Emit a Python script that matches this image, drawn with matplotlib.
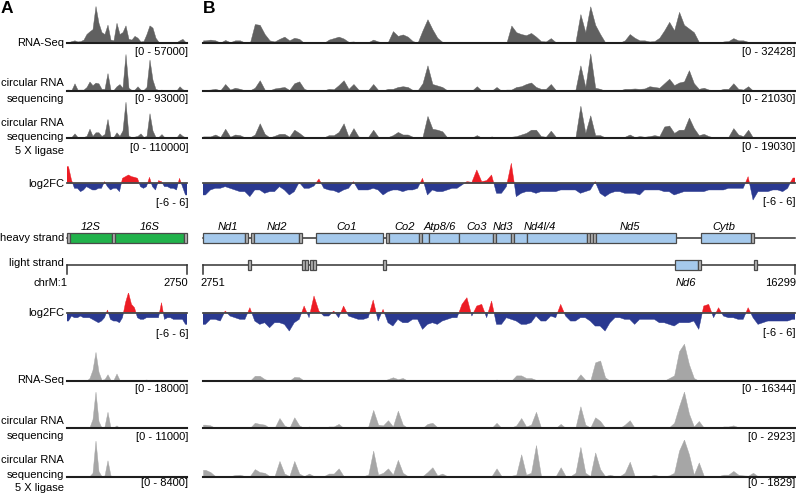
import numpy as np
import matplotlib
matplotlib.use('Agg')
import matplotlib.pyplot as plt
from matplotlib.patches import Rectangle

plt.rcParams['font.family'] = ['Liberation Sans', 'DejaVu Sans']

# ---------------- data (coverage in % of track scale, log2FC in log2 units) -------------
a_rna1 = [3, 6, 8, 5, 6, 10, 25, 32, 38, 100, 55, 30, 25, 50, 10, 8, 55, 25, 30, 48,
          12, 10, 20, 15, 5, 6, 25, 48, 42, 15, 4, 3, 3, 2, 3, 2, 3, 8, 12, 3]
a_circ1 = [3, 2, 20, 3, 3, 3, 10, 25, 15, 22, 20, 5, 5, 48, 3, 2, 12, 18, 8, 100,
           8, 2, 3, 12, 3, 2, 10, 85, 30, 5, 2, 3, 1, 1, 1, 1, 1, 12, 4, 1]
a_lig1 = [0, 2, 12, 2, 2, 2, 5, 25, 5, 15, 15, 5, 10, 52, 2, 2, 15, 5, 20, 100,
          5, 2, 3, 5, 12, 2, 5, 68, 20, 2, 2, 10, 1, 1, 1, 1, 1, 12, 5, 1]
a_fc1 = [5, 1, -1.5, -1.5, -2.5, -2, -1, -1.5, -2, -2, -1.5, -1.5, 0.5, -1, -2, -1.5, -1.5, -2.5, 1.5, 2,
         2.5, 2, 1.8, 1.5, -1, -1.5, -1, 1.8, -1, -2, 0.8, 0.5, -1, -1, -1.5, -1.5, -2, 1.5, -1, -3.5]
a_fc2 = [-2.5, -1, -1.5, -1.5, -1, -1.5, -1.5, -1.5, -2, -2.5, -3, -2.5, -1.5, 0.8, -2, -2.5, -2.5, -3, -1.5, 3,
         6, 2.5, 1.5, -1.5, -2, -2, -1.5, -1.5, -1.5, -1.5, -1.5, 3, -2, -1.5, -1.5, -2, -2, -2, -2, -3.5]
a_rna2 = [1, 1, 1, 1, 1, 1, 1, 8, 30, 78, 25, 3, 5, 18, 3, 3, 20, 3, 1, 1,
          1, 1, 1, 1, 1, 3, 4, 1, 1, 1, 1, 1, 1, 1, 1, 1, 1, 1, 1, 1]
a_circ2 = [1, 1, 1, 1, 1, 1, 1, 3, 25, 100, 20, 2, 5, 45, 2, 2, 8, 1, 1, 1,
           1, 1, 1, 1, 1, 1, 1, 1, 1, 1, 1, 1, 1, 1, 1, 1, 1, 1, 1, 1]
a_lig2 = [1, 1, 1, 1, 1, 1, 1, 1, 10, 100, 15, 1, 3, 45, 3, 1, 1, 1, 1, 1,
          1, 1, 1, 1, 1, 1, 1, 1, 1, 1, 1, 1, 1, 1, 1, 1, 1, 1, 1, 1]

b_rna1 = [8, 10, 8, 2, 9, 3, 8, 8, 2, 1, 52, 50, 25, 8, 5, 12, 18, 8, 15, 12,
          1, 0, 0, 0, 1, 10, 14, 18, 13, 4, 5, 2, 2, 3, 10, 5, 3, 4, 33, 20,
          24, 18, 6, 2, 35, 65, 38, 15, 4, 3, 1, 0, 0, 0, 0, 0, 0, 0, 0, 2,
          1, 1, 48, 30, 25, 22, 28, 18, 6, 5, 14, 3, 2, 1, 3, 4, 79, 30, 100, 50,
          25, 3, 1, 1, 2, 8, 25, 15, 8, 8, 5, 6, 15, 35, 58, 35, 85, 50, 40, 30,
          4, 3, 2, 1, 1, 5, 6, 14, 8, 8, 4, 0, 0, 0, 0, 0, 0, 0, 0, 0]
b_circ1 = [2, 3, 5, 1, 18, 3, 8, 5, 1, 1, 8, 28, 3, 1, 6, 8, 10, 2, 20, 25,
           5, 0, 0, 0, 1, 5, 4, 15, 28, 5, 18, 3, 1, 2, 18, 2, 1, 5, 5, 10,
           12, 10, 2, 1, 20, 68, 18, 14, 10, 1, 0, 0, 0, 0, 0, 12, 0, 0, 0, 10,
           0, 3, 3, 10, 12, 18, 22, 10, 5, 5, 18, 2, 2, 2, 2, 3, 68, 10, 100, 8,
           5, 0, 0, 0, 1, 5, 5, 6, 5, 6, 12, 10, 8, 20, 32, 15, 22, 25, 55, 20,
           5, 8, 3, 2, 1, 5, 5, 20, 5, 3, 12, 0, 0, 0, 0, 0, 0, 0, 0, 0]
b_lig1 = [4, 4, 10, 2, 28, 3, 10, 8, 1, 1, 10, 45, 12, 1, 6, 12, 12, 3, 25, 15,
          3, 0, 0, 0, 1, 8, 8, 18, 45, 3, 30, 4, 1, 3, 25, 3, 1, 2, 8, 18,
          10, 10, 3, 1, 3, 68, 28, 25, 20, 1, 1, 0, 0, 0, 0, 8, 0, 0, 4, 0,
          0, 2, 3, 5, 10, 15, 25, 25, 5, 3, 22, 3, 2, 2, 2, 2, 100, 15, 70, 8,
          8, 1, 0, 0, 2, 3, 10, 2, 5, 3, 5, 8, 5, 35, 38, 15, 25, 25, 63, 30,
          8, 12, 5, 1, 3, 3, 3, 30, 10, 5, 25, 0, 0, 0, 0, 0, 0, 0, 0, 0]
b_fc1 = [-3.5, -2, -1.5, -1.5, -1, -1.5, -2, -2.5, -2.5, -4, -2, -2, -3, -2.5, -2.5, -1, -2, -3.5, -2.5, 0.3,
         -1.5, -1.5, -0.8, 1.3, -1.5, -2, -2.2, -2.8, -2, -1.5, 0.5, -2, -2, -2, -1.5, -2, -3.5, -2.5, -2, -2,
         -2.5, -2, -2, -1.5, 1.5, -3.5, -2, -2.5, -2.5, -2, -1.5, -1.5, -0.5, 0.5, 0.3, 4, 0.5, 0.8, 2.5, -3,
         -3, -1, 6, -4, -3, -2.5, -2.5, -3, -2.5, -2.5, -2.5, -2.5, -2, -2, -2, -2, -3, -2.5, -2, 0.5,
         -3, -4, -3, -2.5, -2.5, -3, -3, -3, -3.5, -2, -2, -2, -2, -2.5, -2.5, -3.5, -3, -2.5, -2.5, -2.5,
         -2.5, -2.5, -2, -2, -2, -2, -1.5, -1.5, -1.5, -1.5, 2, -5, -2.5, -2.5, -2.5, -2, -2, -2.5, -1.5, 1.5]
b_fc2 = [-3.5, -2, -2, -2.5, 0.5, -1, -1.5, -2, -2, 1.5, -2.5, -3.5, -3, -4.5, -3, -3, -3.5, -5.5, -3, -2,
         2, -1.5, 5, 0.5, -1, -1, 0.5, -1.5, 2, -1, -1.5, -2, -2, -1.5, 3.8, -2.5, 1, -3, -4, -2,
         -3, -3, -2, -2, -5, -3.5, -3, -3.5, -2.5, -2, -1.5, -1.5, 2.5, 4.5, -1, 2, 2.5, -1.5, 3.5, -3.5,
         -3.5, -1.5, -2, -2.5, -3.5, -3.5, -3, -1, -2.5, -2.5, -1, -1.5, 2.5, -1, -2.5, -2.5, -1.5, -1.5, -2.5, -4,
         -4, -5.5, -3, -1.5, -1.5, -2, -2, -3.5, -2, -2, -2, -2, -3, -3, -3.5, -4, -3, -3, -3, -2.5,
         -5, 2, 2.5, -1.5, 1.5, -1, -1.5, -1.5, -2, -2, 1.5, -1.5, -3.5, -3, -2.5, -2.5, -2.5, -2.5, -2.5, -2]
b_rna2 = [2, 0.5, 0.5, 0.5, 0.5, 0.5, 0.5, 0.5, 0.5, 0.5, 14, 14, 5, 0.5, 0.5, 3, 0.5, 0.5, 11, 10,
          0.5, 0.5, 0.5, 0.5, 0.5, 0.5, 0.5, 0.5, 0.5, 0.5, 0.5, 0.5, 0.5, 0.5, 0.5, 0.5, 0.5, 5, 10, 5,
          8, 0.5, 0.5, 0.5, 3, 3, 0.5, 0.5, 0.5, 0.5, 0.5, 0.5, 0.5, 0.5, 0.5, 0.5, 0.5, 0.5, 0.5, 4,
          0.5, 1, 1, 15, 15, 8, 8, 3, 0.5, 0.5, 0.5, 0.5, 0.5, 0.5, 0.5, 0.5, 18, 3, 1, 50,
          55, 10, 0.5, 0.5, 0.5, 0.5, 3, 0.5, 0.5, 0.5, 0.5, 0.5, 0.5, 1, 8, 15, 80, 100, 45, 8,
          0.5, 0.5, 0.5, 0.5, 0.5, 0.5, 0.5, 0.5, 2, 0.3, 0.3, 0.3, 0.3, 0.3, 0.3, 0.3, 0.3, 0.3, 0.3, 0.3]
b_circ2 = [10, 8, 1, 1, 2, 1, 2, 2, 1, 1, 15, 12, 10, 1, 1, 28, 8, 1, 30, 8,
           1, 5, 1, 1, 1, 5, 5, 12, 1, 1, 1, 1, 1, 5, 50, 10, 8, 22, 5, 48,
           10, 1, 1, 1, 1, 12, 15, 3, 1, 1, 1, 1, 1, 1, 1, 1, 1, 1, 1, 15,
           1, 1, 2, 8, 28, 5, 10, 45, 2, 1, 1, 1, 12, 1, 1, 2, 60, 10, 2, 30,
           20, 2, 1, 1, 1, 10, 22, 1, 1, 1, 2, 3, 1, 1, 3, 15, 60, 100, 40, 5,
           20, 2, 1, 1, 1, 5, 5, 8, 3, 2, 2, 0.5, 0.5, 0.5, 0.5, 0.5, 0.5, 0.5, 0.5, 0.5]
b_lig2 = [18, 12, 1, 1, 2, 1, 4, 5, 1, 1, 20, 12, 10, 1, 1, 42, 8, 1, 42, 8,
          1, 8, 1, 1, 1, 8, 8, 22, 1, 1, 1, 1, 1, 5, 70, 5, 10, 22, 5, 45,
          10, 1, 1, 1, 1, 12, 25, 3, 8, 1, 1, 1, 1, 1, 1, 1, 1, 1, 1, 22,
          1, 1, 2, 5, 60, 5, 10, 85, 2, 1, 1, 1, 25, 1, 1, 10, 80, 10, 1, 65,
          20, 1, 5, 1, 1, 10, 40, 1, 1, 1, 1, 5, 1, 1, 3, 10, 70, 100, 60, 5,
          38, 2, 1, 1, 1, 5, 5, 15, 5, 3, 2, 10, 0.5, 0.5, 0.5, 0.5, 0.5, 0.5, 0.5, 0.5]

# scale labels
a_scales = ['[0 - 57000]', '[0 - 93000]', '[0 - 110000]', '[-6 - 6]',
            '[-6 - 6]', '[0 - 18000]', '[0 - 11000]', '[0 - 8400]']
b_scales = ['[0 - 32428]', '[0 - 21030]', '[0 - 19030]', '[-6 - 6]',
            '[-6 - 6]', '[0 - 16344]', '[0 - 2923]', '[0 - 1829]']

# gene annotation (chrM coordinates)
heavy_a = [('tF', 1, 68, 't'), ('12S', 70, 1024, 'r'), ('tV', 1025, 1093, 't'),
           ('16S', 1094, 2675, 'r'), ('tL1', 2676, 2750, 't')]
heavy_b = [('Nd1', 2751, 3707, 'g'), ('tI', 3707, 3774, 't'), ('tM', 3845, 3913, 't'),
           ('Nd2', 3914, 4951, 'g'), ('tW', 4951, 5017, 't'), ('Co1', 5328, 6872, 'g'),
           ('tD', 6942, 7011, 't'), ('Co2', 7013, 7696, 'g'), ('tK', 7700, 7764, 't'),
           ('Atp8', 7766, 7927, 'g'), ('Atp6', 7927, 8607, 'g'), ('Co3', 8607, 9390, 'g'),
           ('tG', 9391, 9459, 't'), ('Nd3', 9460, 9807, 'g'), ('tR', 9808, 9875, 't'),
           ('Nd4l', 9877, 10167, 'g'), ('Nd4', 10167, 11544, 'g'), ('tH', 11545, 11613, 't'),
           ('tS2', 11614, 11672, 't'), ('tL2', 11673, 11742, 't'), ('Nd5', 11742, 13565, 'g'),
           ('Cytb', 14145, 15288, 'g'), ('tT', 15289, 15355, 't')]
light_b = [('tQ', 3772, 3842, 't'), ('tA', 5018, 5086, 't'), ('tN', 5089, 5159, 't'),
           ('tC', 5192, 5257, 't'), ('tY', 5260, 5326, 't'), ('tS1', 6870, 6938, 't'),
           ('Nd6', 13552, 14070, 'g'), ('tE', 14071, 14139, 't'), ('tP', 15356, 15422, 't')]
labels_a = [('12S', 547), ('16S', 1884)]
labels_b = [('Nd1', 3330), ('Nd2', 4438), ('Co1', 6046), ('Co2', 7367), ('Atp8/6', 8175),
            ('Co3', 9003), ('Nd3', 9616), ('Nd4l/4', 10463), ('Nd5', 12523), ('Cytb', 14681)]

# ---------------- layout ----------------
W, H = 796, 494
fig = plt.figure(figsize=(W / 100, H / 100), dpi=100)

PX = {'A': (67, 187), 'B': (203, 795)}
GEN = {'A': (1, 2750), 'B': (2751, 16299)}

DARK = '#606060'
LIGHT = '#a6a6a6'
RED = '#ec1c24'
BLUE = '#2a3990'
GREEN = '#21b24b'
LBLUE = '#a5c9ec'
TGREY = '#b5b5b5'
FS = 8


def rect(x0, x1, ytop, ybot):
    return [x0 / W, 1 - ybot / H, (x1 - x0) / W, (ybot - ytop) / H]


def text(x, y, s, ha='right', **kw):
    fig.text(x / W, 1 - y / H, s, ha=ha, va='center', fontsize=FS, **kw)


def centers(panel, n):
    g0, g1 = GEN[panel]
    edges = np.linspace(g0, g1, n + 1)
    c = (edges[:-1] + edges[1:]) / 2
    return np.concatenate([[g0], c, [g1]])


def cov(panel, base, height, vals, color):
    x0, x1 = PX[panel]
    g0, g1 = GEN[panel]
    ax = fig.add_axes(rect(x0, x1, base - height, base))
    v = np.asarray(vals, dtype=float)
    xs = centers(panel, len(v))
    ys = np.concatenate([[v[0]], v, [v[-1]]])
    ax.fill_between(xs, 0, ys, color=color, lw=0.3, edgecolor=color)
    ax.set_xlim(g0, g1)
    ax.set_ylim(0, 100)
    ax.axhline(0, color='#1e1e1e', lw=1.5, clip_on=False)
    ax.axis('off')


def fc(panel, base, vals):
    x0, x1 = PX[panel]
    g0, g1 = GEN[panel]
    ax = fig.add_axes(rect(x0, x1, base - 20, base + 20))
    v = np.asarray(vals, dtype=float)
    xs = centers(panel, len(v))
    ys = np.concatenate([[v[0]], v, [v[-1]]])
    ax.fill_between(xs, 0, ys, where=ys >= 0, interpolate=True, color=RED, lw=0.3, edgecolor=RED)
    ax.fill_between(xs, 0, ys, where=ys <= 0, interpolate=True, color=BLUE, lw=0.3, edgecolor=BLUE)
    ax.set_xlim(g0, g1)
    ax.set_ylim(-6, 6)
    ax.axhline(0, color='#4a4a4a', lw=1.3, clip_on=False)
    ax.axis('off')


cov('A', 43.3, 37.3, a_rna1, DARK)
cov('B', 43.3, 37.0, b_rna1, DARK)
cov('A', 90.7, 36.7, a_circ1, DARK)
cov('B', 90.7, 37.3, b_circ1, DARK)
cov('A', 137.7, 36.0, a_lig1, DARK)
cov('B', 137.7, 32.0, b_lig1, DARK)
fc('A', 183.3, a_fc1)
fc('B', 183.3, b_fc1)
fc('A', 312.7, a_fc2)
fc('B', 312.7, b_fc2)
cov('A', 381.0, 37.3, a_rna2, LIGHT)
cov('B', 381.0, 37.3, b_rna2, LIGHT)
cov('A', 428.3, 36.7, a_circ2, LIGHT)
cov('B', 428.3, 36.7, b_circ2, LIGHT)
cov('A', 476.5, 36.0, a_lig2, LIGHT)
cov('B', 476.5, 37.0, b_lig2, LIGHT)

# ---------------- annotation ----------------
HY, LY, BH = 238.3, 265.0, 9.6
for panel, heavy, light, labs in [('A', heavy_a, [], labels_a), ('B', heavy_b, light_b, labels_b)]:
    x0, x1 = PX[panel]
    g0, g1 = GEN[panel]
    ax = fig.add_axes(rect(x0, x1, 215, 292))
    ax.set_xlim(g0, g1)
    ax.set_ylim(292, 215)
    ax.axis('off')
    ax.plot([g0, g1], [HY, HY], color='#333333', lw=1.1, clip_on=False, zorder=1)
    ax.plot([g0, g1], [LY, LY], color='#333333', lw=1.1, clip_on=False, zorder=1)
    for gx in (g0, g1):
        ax.plot([gx, gx], [LY, LY + 9], color='#333333', lw=1.1, clip_on=False, zorder=1)
    for y, items in [(HY, heavy), (LY, light)]:
        for name, s, e, kind in items:
            fcol = {'t': TGREY, 'r': GREEN, 'g': LBLUE}[kind]
            ax.add_patch(Rectangle((s, y - BH / 2), e - s, BH, facecolor=fcol,
                                   edgecolor='#4a4a4a', lw=0.9, clip_on=False, zorder=2))
    for name, gx in labs:
        ax.text(gx, 226.5, name, ha='center', va='center', fontsize=FS, style='italic')
    if panel == 'B':
        ax.text(13805, 282.5, 'Nd6', ha='center', va='center', fontsize=FS, style='italic')

# coordinate labels
text(68, 282.5, 'chrM:1')
text(188, 282.5, '2750')
text(200, 282.5, '2751', ha='left')
text(796, 282.5, '16299')

# ---------------- left labels ----------------
LX = 64
text(LX, 42.5, 'RNA-Seq')
text(LX, 83, 'circular RNA')
text(LX, 98.5, 'sequencing')
text(LX, 122.5, 'circular RNA')
text(LX, 137, 'sequencing')
text(LX, 150.5, '5 X ligase')
text(LX, 183.5, 'log2FC')
text(LX, 238, 'heavy strand')
text(LX, 263.5, 'light strand')
text(LX, 313, 'log2FC')
text(LX, 380, 'RNA-Seq')
text(LX, 421, 'circular RNA')
text(LX, 436, 'sequencing')
text(LX, 460, 'circular RNA')
text(LX, 474.5, 'sequencing')
text(LX, 488, '5 X ligase')

# scale labels
sa_y = [52, 99, 148.3, 203.5, 334, 389, 436.7, 483]
sb_y = [52, 99, 147, 201.5, 332.7, 389, 436.7, 483]
for s, y in zip(a_scales, sa_y):
    text(188, y, s)
for s, y in zip(b_scales, sb_y):
    text(795.5, y, s)

# panel letters
fig.text(1 / W, 1 - 1 / H, 'A', ha='left', va='top', fontsize=12.5, fontweight='bold')
fig.text(203 / W, 1 - 1 / H, 'B', ha='left', va='top', fontsize=12.5, fontweight='bold')

fig.savefig('out.png', dpi=100)
